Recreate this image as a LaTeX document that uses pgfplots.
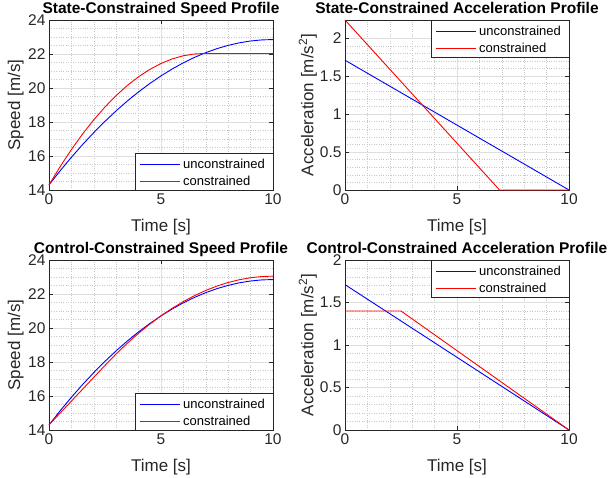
\documentclass[border=0pt]{standalone}
\usepackage{pgfplots}
\pgfplotsset{compat=1.18}
\usepackage{fontspec}
\setmainfont{Liberation Sans}

\definecolor{axgray}{gray}{0.15}
\definecolor{majgrid}{gray}{0.87}
\definecolor{mingrid}{gray}{0.78}

% speed profiles, t in s, v in m/s
\pgfplotstableread{
t v
0 14.300
0.5 15.134
1 15.925
1.5 16.673
2 17.378
2.5 18.041
3 18.661
3.5 19.238
4 19.772
4.5 20.264
5 20.713
5.5 21.119
6 21.482
6.5 21.803
7 22.081
7.5 22.316
8 22.508
8.5 22.658
9 22.765
9.5 22.829
10 22.850
}\speedfree
\pgfplotstableread{
t v
0 14.300
0.5 15.379
1 16.378
1.5 17.295
2 18.131
2.5 18.886
3 19.559
3.5 20.152
4 20.663
4.5 21.093
5 21.442
5.5 21.710
6 21.897
6.5 22.002
6.9 22.028
10 22.028
}\speedstate
\pgfplotstableread{
t v
0 14.300
0.5 15.000
1 15.700
1.5 16.400
2 17.100
2.5 17.800
3 18.477
3.5 19.107
4 19.690
4.5 20.227
5 20.717
5.5 21.160
6 21.557
6.5 21.907
7 22.210
7.5 22.467
8 22.677
8.5 22.840
9 22.957
9.5 23.027
10 23.050
}\speedctrl

% legend drawn as paths in the axis (pgfplots legend images lose their colour here)
% #1 = lower left corner of the box
\newcommand{\legbox}[1]{%
  \draw[axgray, line width=0.5pt, fill=white] #1 rectangle ++(138pt,37pt);
  \draw[blue, line width=0.9pt] #1 ++(5pt,26pt) -- ++(40pt,0pt);
  \draw[red, line width=0.9pt] #1 ++(5pt,9pt) -- ++(40pt,0pt);
  \path #1 ++(48pt,26pt) node[anchor=west, inner sep=0pt, font=\fontsize{13}{15}\selectfont] {unconstrained};
  \path #1 ++(48pt,9pt) node[anchor=west, inner sep=0pt, font=\fontsize{13}{15}\selectfont] {constrained};
}

\pgfplotsset{
  mat/.style={
    scale only axis, width=224pt, height=170pt,
    xmin=0, xmax=10, xtick={0,5,10}, minor x tick num=4,
    grid=both,
    major grid style={majgrid, line width=0.5pt},
    minor grid style={mingrid, dotted, line width=0.5pt},
    axis line style={axgray, line width=0.6pt},
    tick style={axgray, line width=0.5pt},
    major tick length=4pt, minor tick length=0pt,
    tick label style={font=\fontsize{15.5}{17}\selectfont, text=axgray},
    /pgf/number format/assume math mode=true,
    label style={font=\fontsize{17}{19}\selectfont, text=axgray},
    title style={font=\bfseries\fontsize{15.5}{18}\selectfont, at={(0.5,1)}, anchor=base, yshift=0.5pt, inner sep=0pt},
    xlabel={Time [s]},
    xlabel style={at={(axis description cs:0.5,-0.247)}, anchor=base, inner sep=0pt},
    ylabel style={anchor=south, inner sep=0pt},
    clip=false,
  },
  speed/.style={ymin=14, ymax=24, ytick={14,16,...,24}, minor y tick num=3,
    ylabel={Speed [m/s]},
    ylabel style={at={(axis description cs:-0.112,0.5)}}},
  accel/.style={ytick={0,0.5,1,1.5,2}, minor y tick num=4,
    ylabel={Acceleration [m/s\textsuperscript{2}]},
    ylabel style={at={(axis description cs:-0.125,0.5)}}},
}

\begin{document}
\begin{tikzpicture}
\useasboundingbox (0,0) rectangle (611pt,478pt);

\begin{axis}[mat, speed, at={(49pt,288pt)}, anchor=south west,
  title={State-Constrained Speed Profile}]
\addplot[blue, line width=0.9pt] table {\speedfree};
\addplot[red, line width=0.9pt] table {\speedstate};
\legbox{(rel axis cs:1,0) ++(-138pt,0pt)}
\end{axis}

\begin{axis}[mat, accel, at={(345pt,288pt)}, anchor=south west,
  ymin=0, ymax=2.24, title={State-Constrained Acceleration Profile}]
\addplot[blue, line width=0.9pt] coordinates {(0,1.71) (10,0)};
\addplot[red, line width=0.9pt] coordinates {(0,2.24) (6.9,0) (10,0)};
\legbox{(rel axis cs:1,1) ++(-138pt,-37pt)}
\end{axis}

\begin{axis}[mat, speed, at={(49pt,48pt)}, anchor=south west,
  title={Control-Constrained Speed Profile}]
\addplot[blue, line width=0.9pt] table {\speedfree};
\addplot[red, line width=0.9pt] table {\speedctrl};
\legbox{(rel axis cs:1,0) ++(-138pt,0pt)}
\end{axis}

\begin{axis}[mat, accel, at={(345pt,48pt)}, anchor=south west,
  ymin=0, ymax=2, title={Control-Constrained Acceleration Profile}]
\addplot[blue, line width=0.9pt] coordinates {(0,1.71) (10,0)};
\addplot[red, line width=0.9pt] coordinates {(0,1.4) (2.5,1.4) (10,0)};
\legbox{(rel axis cs:1,1) ++(-138pt,-37pt)}
\end{axis}
\end{tikzpicture}
\end{document}
